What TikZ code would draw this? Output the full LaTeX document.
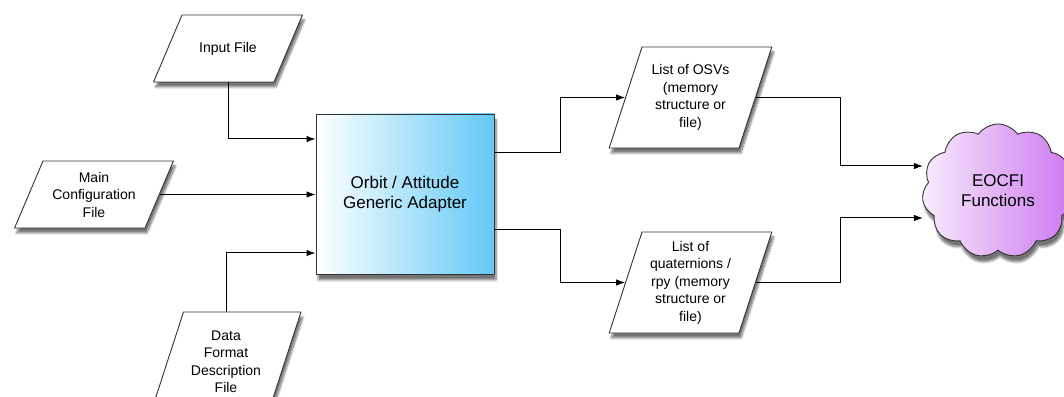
\documentclass[tikz,border=0pt]{standalone}
\usepackage{fontspec}
\setmainfont{Liberation Sans}
\usetikzlibrary{shapes.geometric,shapes.symbols,shadows.blur,arrows.meta}
\definecolor{adapterblue}{RGB}{98,201,246}
\definecolor{cloudpurple}{RGB}{204,118,240}
\definecolor{cloudpale}{RGB}{248,236,252}
% body of a file box: width, height, text
\newcommand\filelabel[3]{\parbox[c][#2][c]{#1}{\centering #3}}
\tikzset{
  file/.style={trapezium, draw=black!80, line width=0.9pt, fill=white,
    inner sep=0pt, font=\fontsize{14}{17.5}\selectfont,
    blur shadow={shadow xshift=2pt, shadow yshift=-5pt, shadow opacity=55, shadow blur steps=8}},
  smallfile/.style={file, trapezium left angle=67, trapezium right angle=113},
  bigfile/.style={file, trapezium left angle=72, trapezium right angle=108},
  flow/.style={line width=1pt, -{Latex[length=9pt,width=6.5pt]}}
}
\begin{document}
\begin{tikzpicture}[x=1pt, y=1pt]
  \useasboundingbox (0,0) rectangle (1064,396);
  % inputs
  \node[smallfile] (inp) at (228,347.5) {\filelabel{92pt}{67pt}{Input File}};
  \node[smallfile] (cfg) at (94,201.5) {\filelabel{102pt}{67pt}{Main\\Configuration\\File}};
  \node[bigfile] (fmt) at (226,34) {\filelabel{85pt}{100pt}{Data\\Format\\Description\\File}};
  % adapter
  \node[draw=black!80, line width=0.9pt, left color=white, right color=adapterblue,
    minimum width=178pt, minimum height=160pt, align=center,
    font=\fontsize{17}{20}\selectfont,
    blur shadow={shadow xshift=2pt, shadow yshift=-6pt, shadow opacity=55, shadow blur steps=8}]
    (box) at (405,202) {Orbit / Attitude\\Generic Adapter};
  % outputs
  \node[bigfile] (osv) at (690.5,298.5) {\filelabel{97pt}{101pt}{List of OSVs\\(memory\\structure or\\file)}};
  \node[bigfile] (qtn) at (690.5,113.5) {\filelabel{97pt}{101pt}{List of\\quaternions /\\rpy (memory\\structure or\\file)}};
  \node[cloud, cloud puffs=11, cloud puff arc=110, cloud ignores aspect,
    draw=black!80, line width=0.9pt,
    left color=cloudpale, right color=cloudpurple,
    minimum width=152pt, minimum height=134pt, align=center,
    font=\fontsize{17}{20}\selectfont,
    blur shadow={shadow xshift=2pt, shadow yshift=-6pt, shadow opacity=55, shadow blur steps=8}]
    (eocfi) at (998,205) {EOCFI\\Functions};
  % connectors
  \draw[flow] (inp.south) |- ([yshift=55pt]box.west);
  \draw[flow] (cfg.east) -- (cfg.east -| box.west);
  \draw[flow] (fmt.north) |- ([yshift=-59pt]box.west);
  \draw[flow] ([yshift=41pt]box.east) -- ++(66,0) |- (osv.west);
  \draw[flow] ([yshift=-36pt]box.east) -- ++(66,0) |- (qtn.west);
  \draw[flow] (osv.east) -- ++(85,0) |- ([yshift=25pt]eocfi.west);
  \draw[flow] (qtn.east) -- ++(85,0) |- ([yshift=-27pt]eocfi.west);
\end{tikzpicture}
\end{document}
